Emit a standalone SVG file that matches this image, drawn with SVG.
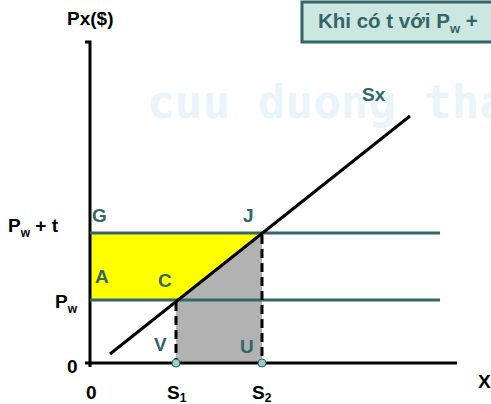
<svg xmlns="http://www.w3.org/2000/svg" width="491" height="404" viewBox="0 0 491 404">
<style>
text{font-family:"Liberation Sans",Arial,sans-serif;font-weight:bold;}
.lbl{font-size:19px;fill:#000;}
.pt{font-size:19px;fill:#336666;}
.sub{font-size:12px;}
.axis{stroke:#000;stroke-width:3;fill:none;}
.price{stroke:#336666;stroke-width:3;}
.dash{stroke:#000;stroke-width:3;stroke-dasharray:9,5;}
.dot{fill:#99cccc;stroke:#336666;stroke-width:1;}
</style>
<rect width="491" height="404" fill="#fff"/>
<text x="147" y="118" style="font-family:'DejaVu Sans Mono',monospace;font-size:46px;font-weight:bold;fill:#e9f5fa">cuu duong tha</text>
<g id="title-box">
<rect x="302" y="2" width="200" height="40" fill="#cce6e0" stroke="#336666" stroke-width="3"/>
<text x="318" y="28" style="font-size:20.5px;fill:#336666">Khi có t với P<tspan class="sub" style="font-size:13px" dy="5">w</tspan><tspan dy="-5"> +</tspan></text>
</g>
<g id="areas">
<polygon points="90,233 262,233 178,300 90,300" fill="#ffff00"/>
<polygon points="176,300 178,300 262,233 262,363 176,363" fill="#b2b2b2"/>
</g>
<g id="connectors">
<path class="axis" d="M85,42 H90 V367"/>
<path class="axis" d="M85,363 H457"/>
<line class="price" x1="90" y1="233" x2="440" y2="233"/>
<line class="price" x1="90" y1="300" x2="440" y2="300"/>
<line class="dash" x1="176" y1="302" x2="176" y2="363"/>
<line class="dash" x1="262" y1="235" x2="262" y2="363"/>
<line x1="110" y1="354" x2="410" y2="116" stroke="#000" stroke-width="3"/>
</g>
<g id="S1-point"><circle class="dot" cx="176" cy="363" r="4"/></g>
<g id="S2-point"><circle class="dot" cx="262" cy="363" r="4"/></g>
<g id="labels">
<text class="lbl" x="67" y="25">Px($)</text>
<text class="pt" x="362" y="101">Sx</text>
<text class="pt" x="92" y="222">G</text>
<text class="pt" x="243" y="222">J</text>
<text class="pt" x="95" y="283">A</text>
<text class="pt" x="158" y="287">C</text>
<text class="pt" x="154" y="351">V</text>
<text class="pt" x="240" y="353">U</text>
<text class="lbl" x="8" y="232">P<tspan class="sub" dy="5">w</tspan><tspan dy="-5"> + t</tspan></text>
<text class="lbl" x="55" y="308">P<tspan class="sub" dy="5">w</tspan></text>
<text class="lbl" x="67" y="373">0</text>
<text class="lbl" x="86" y="399">0</text>
<text class="lbl" x="167" y="399">S<tspan class="sub" dy="3">1</tspan></text>
<text class="lbl" x="252" y="399">S<tspan class="sub" dy="3">2</tspan></text>
<text class="lbl" x="478" y="388">X</text>
</g>
</svg>
